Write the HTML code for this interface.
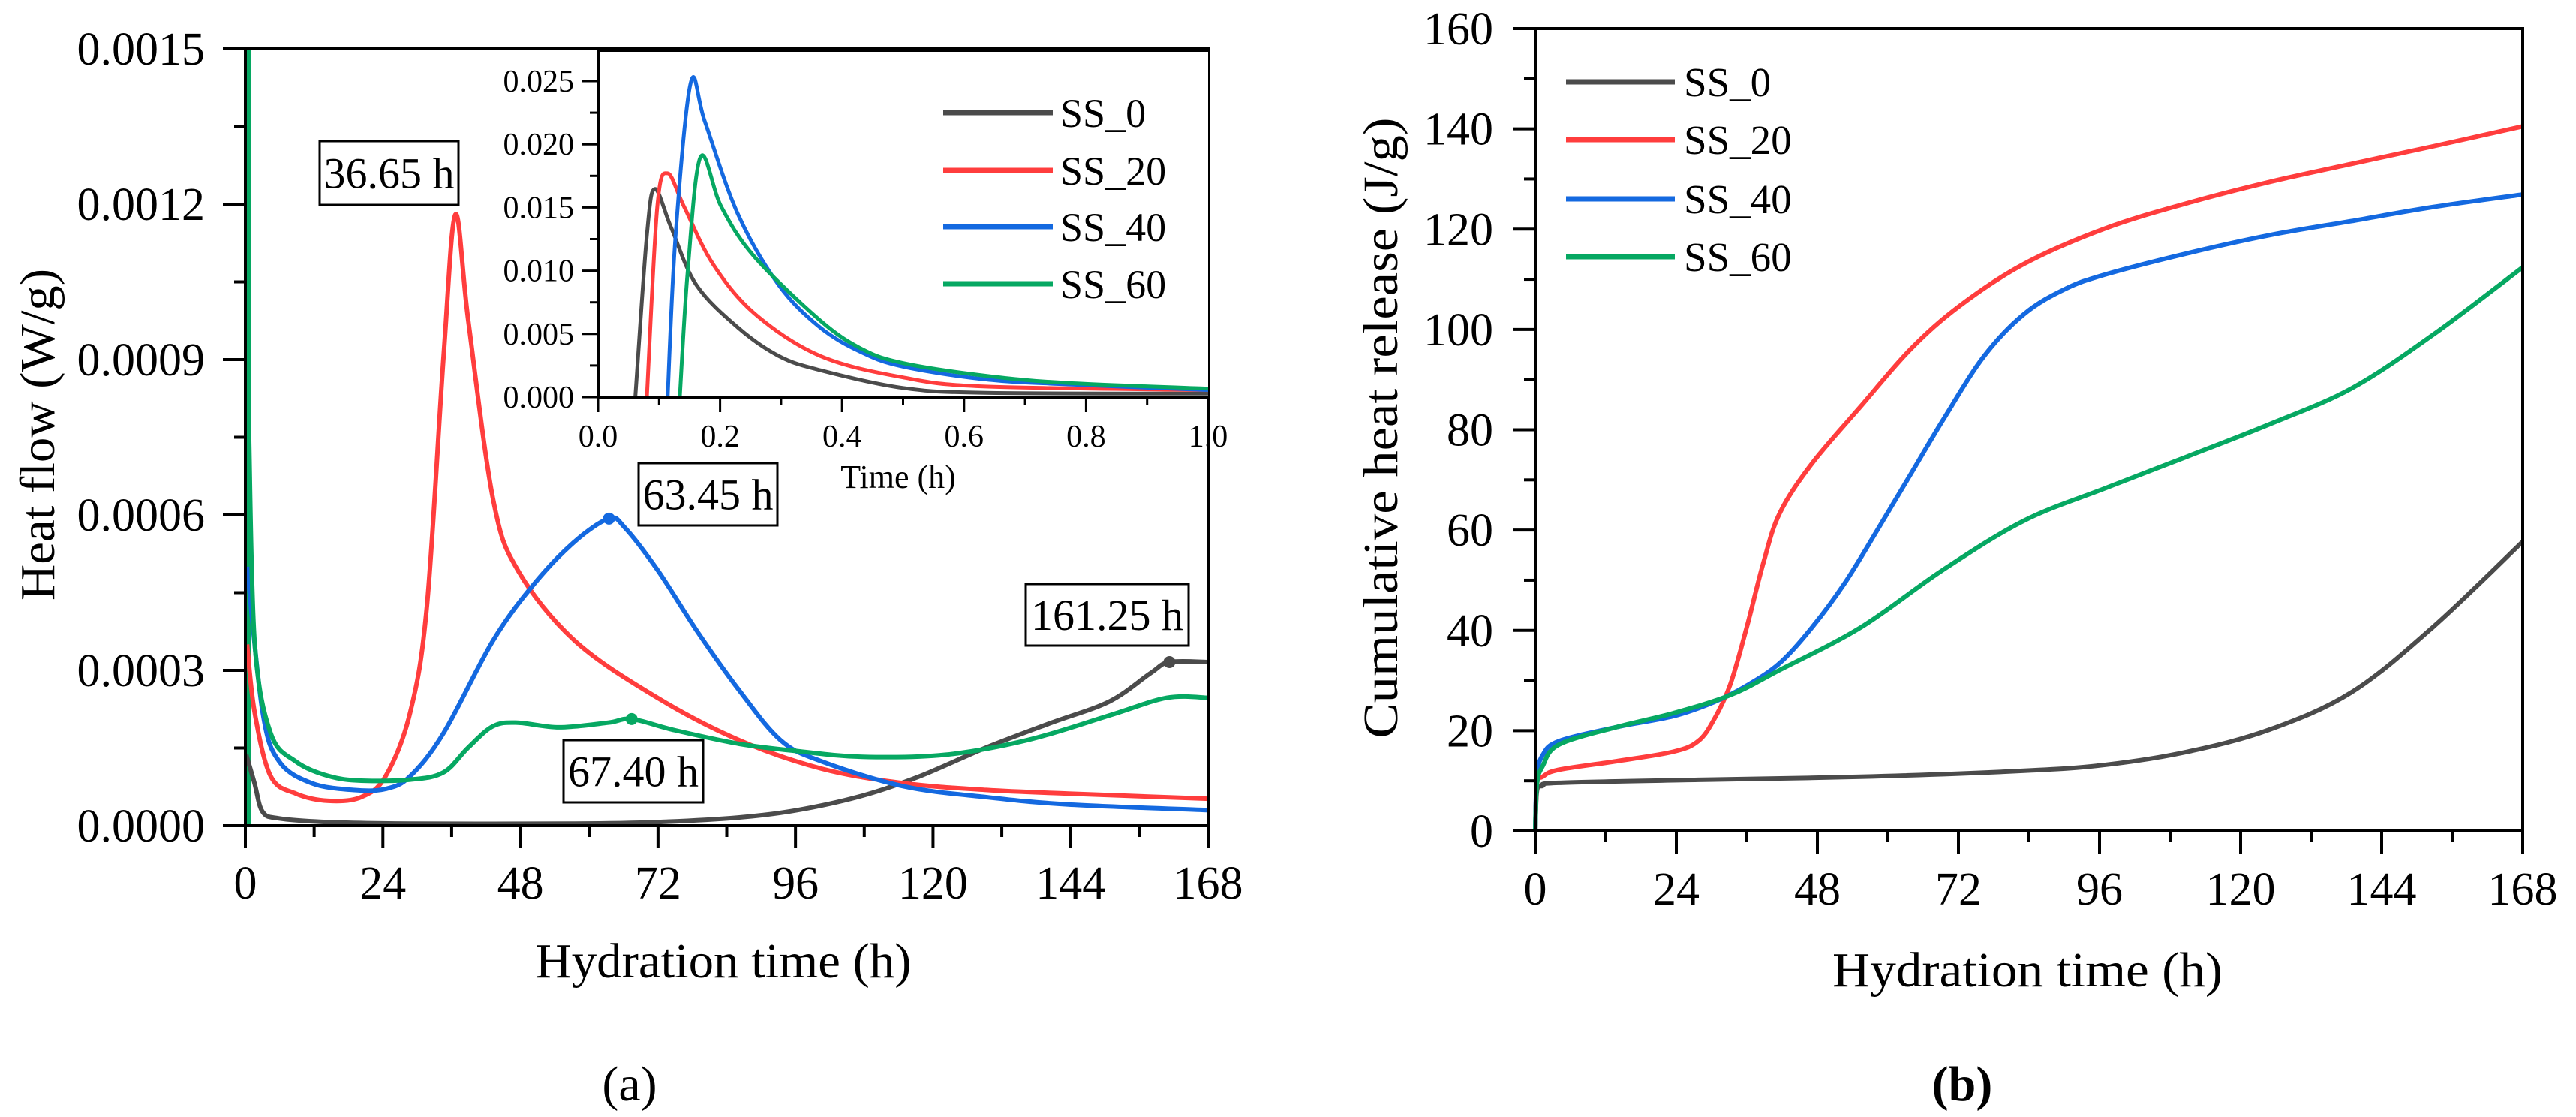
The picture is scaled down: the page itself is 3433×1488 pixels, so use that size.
<!DOCTYPE html>
<html><head><meta charset="utf-8"><style>
body{margin:0;background:#fff}
svg{display:block;font-family:"Liberation Serif",serif}
</style></head><body>
<svg id="fig" width="3433" height="1488" viewBox="0 0 3433 1488" xmlns="http://www.w3.org/2000/svg">
<g id="pa"></g>
<g id="pb"></g>
</svg>
<script>
// ---- Panel (a) main heat flow data ----
const a_ss0_t=[0.15,1.6,3.0,5.9,14.5,28.8,57.5,71.9,86.2,96.3,107.7,117.8,129.3,140.7,150.8,158,161.25,168];
const a_ss0_v=[0.000137,0.000082,0.000027,0.000014,0.000007,0.000004,0.000004,0.000007,0.000016,0.00003,0.000058,0.000096,0.000151,0.000199,0.00024,0.000295,0.000316,0.000316];
const a_ss20_t=[0.3,1.6,4.4,8.8,14.5,20.2,24.5,28.8,31.7,34.6,36.65,38.9,43.2,47.5,57.5,71.9,86.2,100.6,114.9,129.3,143.6,168];
const a_ss20_v=[0.00035,0.00022,0.000096,0.000062,0.000048,0.000055,0.000096,0.00022,0.000426,0.000907,0.00118,0.000975,0.000632,0.000494,0.000357,0.000247,0.000165,0.00011,0.000082,0.000069,0.000062,0.000052];
const a_ss40_t=[0.3,3.0,5.9,11.6,18.8,24.5,28.8,34.6,43.2,50.4,57.5,63.45,66.1,71.9,79.1,86.2,93.4,100.6,114.9,129.3,143.6,168];
const a_ss40_v=[0.0005,0.00022,0.000124,0.000082,0.000069,0.000071,0.000096,0.000179,0.000357,0.000467,0.000549,0.000593,0.000577,0.000494,0.000371,0.000261,0.000165,0.000124,0.000076,0.000055,0.000041,0.00003];
const a_ss60_t=[0.6,1.6,4.4,8.8,14.5,20.2,28.8,34.6,38.9,43.2,47.5,54.7,63.3,67.4,74.7,86.2,96.3,107.7,122.1,136.4,150.8,160.8,168];
const a_ss60_v=[0.00077,0.000357,0.000179,0.000124,0.000096,0.000087,0.000089,0.000103,0.000151,0.000192,0.000199,0.00019,0.000199,0.000206,0.000185,0.000158,0.000144,0.000133,0.000137,0.000165,0.000213,0.000247,0.000247];
const a_xticks=[0,24,48,72,96,120,144,168];
const a_yticks=[0,0.0003,0.0006,0.0009,0.0012,0.0015];
const a_ylabels=["0.0000","0.0003","0.0006","0.0009","0.0012","0.0015"];
// ---- Inset data ----
const i_ss0_t=[0.061,0.080,0.093,0.120,0.161,0.229,0.296,0.364,0.499,0.635,1.0];
const i_ss0_v=[0,0.0128,0.01646,0.01337,0.00888,0.00551,0.00326,0.00213,0.00073,0.00034,0.00028];
const i_ss20_t=[0.080,0.097,0.114,0.141,0.188,0.256,0.364,0.499,0.635,1.0];
const i_ss20_v=[0,0.01506,0.0177,0.01506,0.01056,0.00663,0.00326,0.00157,0.00084,0.00056];
const i_ss40_t=[0.114,0.127,0.152,0.175,0.229,0.296,0.364,0.432,0.499,0.635,0.770,1.0];
const i_ss40_v=[0,0.0128,0.0249,0.0218,0.0145,0.00888,0.00551,0.00354,0.00242,0.0014,0.00101,0.00056];
const i_ss60_t=[0.134,0.147,0.168,0.202,0.256,0.364,0.432,0.499,0.635,0.770,1.0];
const i_ss60_v=[0,0.01,0.019,0.01506,0.01112,0.00607,0.00382,0.0027,0.00169,0.00112,0.00067];
const i_xticks=[0,0.2,0.4,0.6,0.8,1.0];
const i_xlabels=["0.0","0.2","0.4","0.6","0.8","1.0"];
const i_yticks=[0,0.005,0.01,0.015,0.02,0.025];
const i_ylabels=["0.000","0.005","0.010","0.015","0.020","0.025"];
// ---- Panel (b) cumulative data ----
const b_ss0_t=[0,0.3,1.25,4.0,27.7,55.4,83.2,97.1,111.0,124.9,138.8,152.7,168];
const b_ss0_v=[0,8.0,9.0,9.6,10.2,10.8,12.0,13.2,15.8,20.2,27.6,40.6,57.7];
const b_ss20_t=[0,0.3,1.25,4.0,13.8,23.5,27.7,30.4,33.2,36.0,38.8,41.6,47.1,55.4,63.8,72.1,83.2,97.1,111.0,124.9,138.8,152.7,168];
const b_ss20_v=[0,9.4,10.8,12.2,13.9,15.8,17.9,22.2,29.3,40.7,53.4,63.4,73.3,84.7,96.0,104.6,113.1,120.2,125.2,129.4,133.0,136.5,140.5];
const b_ss40_t=[0,0.3,1.25,4.0,13.8,23.5,30.4,36.0,41.6,47.1,52.7,58.2,63.8,69.3,76.3,83.2,90.2,97.1,111.0,124.9,138.8,152.7,168];
const b_ss40_v=[0,10.8,15.1,17.9,20.7,22.9,25.7,29.0,33.5,40.6,49.5,60.0,71.0,81.8,94.6,103.1,108.1,111.0,115.2,118.8,121.6,124.4,126.9];
const b_ss60_t=[0,0.3,1.25,4.0,13.8,23.5,33.2,41.6,55.4,69.3,83.2,97.1,111.0,124.9,138.8,152.7,168];
const b_ss60_v=[0,9.4,12.9,17.2,20.7,23.5,27.1,32.1,40.6,52.0,61.9,68.4,74.7,81.1,88.2,98.9,112.4];
const b_xticks=[0,24,48,72,96,120,144,168];
const b_yticks=[0,20,40,60,80,100,120,140,160];
// peaks
const a_peaks_t=[36.65,63.45,67.40,161.25];
const a_peaks_label=["36.65 h","63.45 h","67.40 h","161.25 h"];

const NS="http://www.w3.org/2000/svg";
const C={ss0:"#4b4b4b",ss20:"#ff3d3d",ss40:"#1469e0",ss60:"#06a862"};
function el(p,tag,at){const e=document.createElementNS(NS,tag);for(const k in at)e.setAttribute(k,at[k]);p.appendChild(e);return e;}
function lin(d0,d1,r0,r1){return v=>r0+(v-d0)*(r1-r0)/(d1-d0);}
function pathD(ts,vs,X,Y){const p=ts.map((t,i)=>[X(t),Y(vs[i])]);let d="M"+p[0][0].toFixed(1)+","+p[0][1].toFixed(1);
for(let i=0;i<p.length-1;i++){const p0=p[Math.max(0,i-1)],p1=p[i],p2=p[i+1],p3=p[Math.min(p.length-1,i+2)];
const c1=[p1[0]+(p2[0]-p0[0])/6,p1[1]+(p2[1]-p0[1])/6],c2=[p2[0]-(p3[0]-p1[0])/6,p2[1]-(p3[1]-p1[1])/6];
d+="C"+c1.map(v=>v.toFixed(1))+" "+c2.map(v=>v.toFixed(1))+" "+p2.map(v=>v.toFixed(1));}return d;}
function interp(ts,vs,t){for(let i=0;i<ts.length-1;i++){if(t>=ts[i]&&t<=ts[i+1])return vs[i]+(vs[i+1]-vs[i])*(t-ts[i])/(ts[i+1]-ts[i]);}return vs[vs.length-1];}
function txt(p,x,y,s,size,anchor,extra){const e=el(p,"text",Object.assign({x:x,y:y,"font-size":size,"text-anchor":anchor||"middle",fill:"#000"},extra||{}));e.textContent=s;return e;}

// ===== Panel A =====
const pa=document.getElementById("pa");
const AT=65, AB=1100;
const AX=lin(0,168,327,1610), AY=lin(0,0.0015,AB,AT);
const aclip=el(pa,"clipPath",{id:"ca"});el(aclip,"rect",{x:327,y:AT,width:1283,height:AB-AT});
const ag=el(pa,"g",{"clip-path":"url(#ca)"});


let ln=el(ag,"line",{x1:AX(0)+4,y1:AY(0),x2:AX(0)+4,y2:AY(0.0015),stroke:C.ss60,"stroke-width":7});


[["ss0",a_ss0_t,a_ss0_v],["ss20",a_ss20_t,a_ss20_v],["ss40",a_ss40_t,a_ss40_v],["ss60",a_ss60_t,a_ss60_v]].forEach(s=>{
 const e=el(ag,"path",{d:pathD(s[1],s[2],AX,AY),fill:"none",stroke:C[s[0]],"stroke-width":6,"stroke-linejoin":"round"});
 
 
});
[[a_ss40_t,a_ss40_v,63.45,C.ss40],[a_ss60_t,a_ss60_v,67.40,C.ss60],[a_ss0_t,a_ss0_v,161.25,C.ss0]].forEach(p=>{
 const e=el(ag,"circle",{cx:AX(p[2]),cy:AY(interp(p[0],p[1],p[2])),r:8,fill:p[3]});
 
 
});
let fr=el(pa,"rect",{x:327,y:AT,width:1283,height:AB-AT,fill:"none",stroke:"#000","stroke-width":4});


a_xticks.forEach((t,i)=>{el(pa,"line",{x1:AX(t),y1:AB,x2:AX(t),y2:AB+30,stroke:"#000","stroke-width":4});
 if(i<a_xticks.length-1)el(pa,"line",{x1:AX(t+12),y1:AB,x2:AX(t+12),y2:AB+15,stroke:"#000","stroke-width":4});
 const e=txt(pa,AX(t),1197,String(t),62);});
a_yticks.forEach((v,i)=>{el(pa,"line",{x1:297,y1:AY(v),x2:327,y2:AY(v),stroke:"#000","stroke-width":4});
 if(i<a_yticks.length-1)el(pa,"line",{x1:312,y1:AY(v+0.00015),x2:327,y2:AY(v+0.00015),stroke:"#000","stroke-width":4});
 const e=txt(pa,273,AY(v)+21,a_ylabels[i],62,"end");});
let t1=txt(pa,0,0,"Heat flow (W/g)",66,"middle",{transform:"translate(72,579) rotate(-90)",textLength:442,lengthAdjust:"spacingAndGlyphs"});

let t2=txt(pa,964,1302,"Hydration time (h)",66,"middle",{textLength:501,lengthAdjust:"spacingAndGlyphs"});

let t3=txt(pa,839,1466,"(a)",66);
const boxes=[[426,188,185,85],[851,617,185,83],[751,986,186,83],[1367,778,217,82]];
a_peaks_label.forEach((s,i)=>{const b=boxes[i];const g=el(pa,"g",{});
 
 
 el(g,"rect",{x:b[0],y:b[1],width:b[2],height:b[3],fill:"#fff",stroke:"#000","stroke-width":3});
 txt(g,b[0]+b[2]/2,b[1]+b[3]/2+20,s,58);});
// ===== Inset =====
const IT=67, IB=529;
const IX=lin(0,1,797,1610), IY=lin(0,0.025,IB,108);
const ig=el(pa,"g",{});


el(ig,"rect",{x:797,y:IT,width:813,height:IB-IT,fill:"#fff",stroke:"none"});
const iclip=el(ig,"clipPath",{id:"ci"});el(iclip,"rect",{x:797,y:IT,width:813,height:IB-IT});
const igc=el(ig,"g",{"clip-path":"url(#ci)"});
[["ss0",i_ss0_t,i_ss0_v],["ss20",i_ss20_t,i_ss20_v],["ss40",i_ss40_t,i_ss40_v],["ss60",i_ss60_t,i_ss60_v]].forEach(s=>{
 const e=el(igc,"path",{d:pathD(s[1],s[2],IX,IY),fill:"none",stroke:C[s[0]],"stroke-width":5,"stroke-linejoin":"round"});
 
 
});
el(ig,"polyline",{points:"797,"+IT+" 797,"+IB+" 1610,"+IB,fill:"none",stroke:"#000","stroke-width":4});
el(ig,"line",{x1:797,y1:IT,x2:1610,y2:IT,stroke:"#000","stroke-width":4});
i_xticks.forEach((t,i)=>{el(ig,"line",{x1:IX(t),y1:IB,x2:IX(t),y2:IB+20,stroke:"#000","stroke-width":3});
 if(i<i_xticks.length-1)el(ig,"line",{x1:IX(t+0.1),y1:IB,x2:IX(t+0.1),y2:IB+11,stroke:"#000","stroke-width":3});
 txt(ig,IX(t),595,i_xlabels[i],42);});
i_yticks.forEach((v,i)=>{el(ig,"line",{x1:776,y1:IY(v),x2:797,y2:IY(v),stroke:"#000","stroke-width":3});
 if(i<i_yticks.length-1)el(ig,"line",{x1:786,y1:IY(v+0.0025),x2:797,y2:IY(v+0.0025),stroke:"#000","stroke-width":3});
 txt(ig,765,IY(v)+14,i_ylabels[i],42,"end");});
txt(ig,1197,650,"Time (h)",44);
const legA=[["ss0","SS_0",150],["ss20","SS_20",227],["ss40","SS_40",302],["ss60","SS_60",378]];
legA.forEach(l=>{const g=el(ig,"g",{});
 
 
 el(g,"line",{x1:1257,y1:l[2],x2:1403,y2:l[2],stroke:C[l[0]],"stroke-width":7});
 txt(g,1413,l[2]+19,l[1],54,"start");});

// ===== Panel B =====
const pb=document.getElementById("pb");
const BT=38, BB=1107;
const BX=lin(0,168,2046,3362), BY=lin(0,160,BB,BT);
[["ss0",b_ss0_t,b_ss0_v],["ss20",b_ss20_t,b_ss20_v],["ss40",b_ss40_t,b_ss40_v],["ss60",b_ss60_t,b_ss60_v]].forEach(s=>{
 const e=el(pb,"path",{d:pathD(s[1],s[2],BX,BY),fill:"none",stroke:C[s[0]],"stroke-width":6,"stroke-linejoin":"round"});
 
 
});
let fb=el(pb,"rect",{x:2046,y:BT,width:1316,height:BB-BT,fill:"none",stroke:"#000","stroke-width":4});


b_xticks.forEach((t,i)=>{el(pb,"line",{x1:BX(t),y1:BB,x2:BX(t),y2:BB+30,stroke:"#000","stroke-width":4});
 if(i<b_xticks.length-1)el(pb,"line",{x1:BX(t+12),y1:BB,x2:BX(t+12),y2:BB+15,stroke:"#000","stroke-width":4});
 const e=txt(pb,BX(t),1205,String(t),62);});
b_yticks.forEach((v,i)=>{el(pb,"line",{x1:2016,y1:BY(v),x2:2046,y2:BY(v),stroke:"#000","stroke-width":4});
 if(i<b_yticks.length-1)el(pb,"line",{x1:2031,y1:BY(v+10),x2:2046,y2:BY(v+10),stroke:"#000","stroke-width":4});
 const e=txt(pb,1990,BY(v)+21,String(v),62,"end");});
let t4=txt(pb,0,0,"Cumulative heat release (J/g)",66,"middle",{transform:"translate(1862,570) rotate(-90)",textLength:827,lengthAdjust:"spacingAndGlyphs"});

let t5=txt(pb,2702,1314,"Hydration time (h)",66,"middle",{textLength:520,lengthAdjust:"spacingAndGlyphs"});

let t6=txt(pb,2615,1466,"(b)",66,"middle",{"font-weight":"bold"});
const legB=[["ss0","SS_0",109],["ss20","SS_20",186],["ss40","SS_40",265],["ss60","SS_60",342]];
legB.forEach(l=>{const g=el(pb,"g",{});
 
 
 el(g,"line",{x1:2087,y1:l[2],x2:2232,y2:l[2],stroke:C[l[0]],"stroke-width":7});
 txt(g,2244,l[2]+19,l[1],55,"start");});
</script>
</body></html>
